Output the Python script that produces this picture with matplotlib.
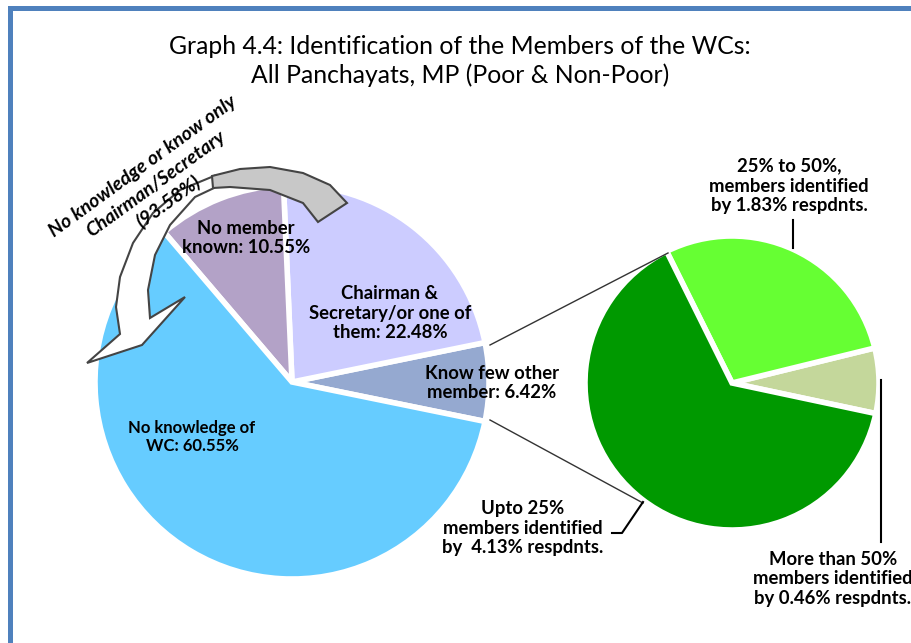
import matplotlib
matplotlib.use('Agg')
import matplotlib.pyplot as plt
from matplotlib.patches import Polygon, Rectangle

plt.rcParams['font.family'] = ['Lato', 'DejaVu Sans']

# data
main_labels = ['Know few other\nmember: 6.42%', 'Chairman &\nSecretary/or one of\nthem: 22.48%',
               'No member\nknown: 10.55%', 'No knowledge of\nWC: 60.55%']
main_values = [6.42, 22.48, 10.55, 60.55]
main_colors = ['#95A9D0', '#CCCCFF', '#B3A2C7', '#66CCFF']

sub_labels = ['More than 50%\nmembers identified\nby 0.46% respdnts.',
              '25% to 50%,\nmembers identified\nby 1.83% respdnts.',
              'Upto 25%\nmembers identified\nby  4.13% respdnts.']
sub_values = [0.46, 1.83, 4.13]
sub_colors = ['#C4D79B', '#66FF33', '#009900']

title = 'Graph 4.4: Identification of the Members of the WCs:\nAll Panchayats, MP (Poor & Non-Poor)'
arrow_text = 'No knowledge or know only\nChairman/Secretary\n(93.58%)'

W, H = 912, 643
def fy(y):
    return H - y

fig = plt.figure(figsize=(9.12, 6.43), dpi=100)
ax = fig.add_axes([0, 0, 1, 1])

# main pie
main_c = (292, fy(382))
ax.pie(main_values, colors=main_colors, startangle=-main_values[0] * 3.6 / 2,
       counterclock=True, center=main_c, radius=197, frame=True,
       wedgeprops=dict(edgecolor='white', linewidth=4))

# secondary pie
sub_c = (732, fy(383))
ax.pie(sub_values, colors=sub_colors, startangle=-12, counterclock=True,
       center=sub_c, radius=147, frame=True,
       wedgeprops=dict(edgecolor='white', linewidth=4))

# connector lines
ax.plot([490, 668], [fy(345), fy(253)], color='#333333', lw=1)
ax.plot([490, 643], [fy(420), fy(503)], color='#333333', lw=1)

# curved arrow
gray_pts = [(347, 203), (330, 185), (303, 173), (270, 167), (240, 169), (212, 176),
            (213, 188), (230, 187), (270, 190), (303, 203), (318, 222)]
white_pts = [(214, 176), (180, 190), (153, 213), (133, 243), (120, 277), (116, 307),
             (120, 334), (87, 363), (142, 345), (185, 297), (150, 318), (148, 290),
             (155, 255), (170, 225), (195, 197), (214, 188)]
ax.add_patch(Polygon([(x, fy(y)) for x, y in white_pts], closed=True,
                     facecolor='white', edgecolor='#444444', lw=1.5, zorder=3))
ax.add_patch(Polygon([(x, fy(y)) for x, y in gray_pts], closed=True,
                     facecolor='#C8C8C8', edgecolor='#444444', lw=1.5, zorder=3))

fs = 13.3
# labels on main pie
ax.text(246, fy(238), main_labels[2], ha='center', va='center', fontsize=fs,
        fontweight='bold', zorder=5)
ax.text(390, fy(313), main_labels[1], ha='center', va='center', fontsize=fs,
        fontweight='bold', zorder=5)
ax.text(492, fy(383), main_labels[0], ha='center', va='center', fontsize=fs,
        fontweight='bold', zorder=5)
ax.text(192, fy(437), main_labels[3], ha='center', va='center', fontsize=12,
        fontweight='bold', zorder=5)

# labels on secondary pie
ax.text(789, fy(186), sub_labels[1], ha='center', va='center', fontsize=fs,
        fontweight='bold')
ax.plot([793, 793], [fy(220), fy(248)], color='black', lw=1.5)
ax.text(833, fy(579), sub_labels[0], ha='center', va='center', fontsize=fs,
        fontweight='bold')
ax.plot([881, 881], [fy(380), fy(542)], color='black', lw=1.5)
ax.text(523, fy(528), sub_labels[2], ha='center', va='center', fontsize=fs,
        fontweight='bold')
ax.plot([612, 622, 643], [fy(533), fy(533), fy(502)], color='black', lw=1.5)

# rotated annotation
ax.text(156, fy(184), arrow_text, ha='center', va='center', rotation=36,
        rotation_mode='anchor', fontsize=14, fontweight='bold', fontstyle='italic',
        multialignment='center', linespacing=1.3, zorder=6)

# title
ax.text(460, fy(61), title, ha='center', va='center', fontsize=17.8, linespacing=1.25)

# frame
ax.add_patch(Rectangle((8, fy(11)), W - 8, 5, facecolor='#4F81BD', edgecolor='none'))
ax.add_patch(Rectangle((8, 0), 5, fy(6), facecolor='#4F81BD', edgecolor='none'))

ax.set_xlim(0, W)
ax.set_ylim(0, H)
ax.axis('off')

fig.savefig('out.png', dpi=100, facecolor='white')
